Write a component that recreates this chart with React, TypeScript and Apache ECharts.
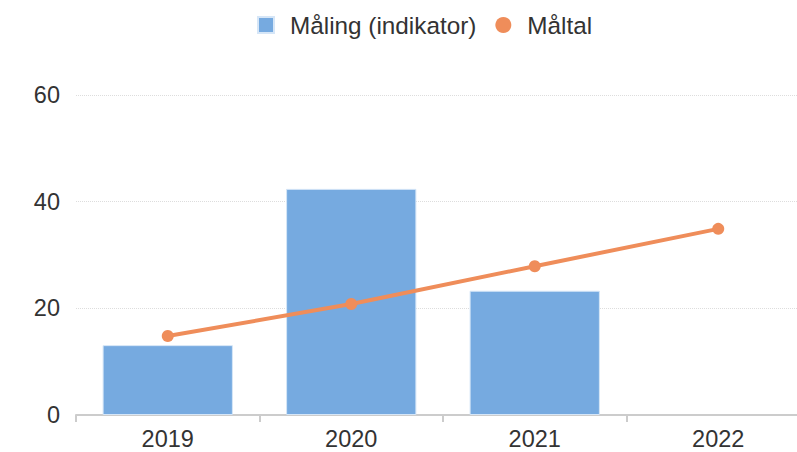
import React, { useEffect, useRef } from "react";
import * as echarts from "echarts";

const categories = ["2019", "2020", "2021", "2022"];
const malingValues: (number | null)[] = [13.1, 42.4, 23.3, null];
const maltalValues = [14.8, 20.8, 27.9, 34.9];
const yTicks = [0, 20, 40, 60];

export default function App() {
  const ref = useRef<HTMLDivElement>(null);
  useEffect(() => {
    if (!ref.current) return;
    const chart = echarts.init(ref.current, null, { renderer: "svg" });
    const font = "'Liberation Sans', Arial, sans-serif";
    chart.setOption({
      animation: false,
      textStyle: { fontFamily: font },
      legend: {
        top: 13,
        left: 257,
        padding: 0,
        itemWidth: 16,
        itemHeight: 16,
        itemGap: 19,
        textStyle: { fontSize: 24.3, color: "#333", fontFamily: font, padding: [0, 0, 0, 11] },
        data: [
          { name: "Måling (indikator)", icon: "rect" },
          { name: "Måltal", icon: "circle" },
        ],
      },
      grid: { left: 76, right: 0, top: 95, bottom: 37, containLabel: false },
      xAxis: {
        type: "category",
        data: categories,
        axisLine: { lineStyle: { color: "#ccc", width: 2 } },
        axisTick: { show: true, length: 7, lineStyle: { color: "#ccc", width: 2 } },
        axisLabel: { fontSize: 23.5, color: "#333", margin: 12, fontFamily: font },
      },
      yAxis: {
        type: "value",
        min: yTicks[0],
        max: yTicks[yTicks.length - 1],
        interval: 20,
        axisLabel: { fontSize: 23.5, color: "#333", margin: 16, fontFamily: font },
        splitLine: { lineStyle: { color: "#ddd", type: "dotted", width: 1 } },
        axisLine: { show: false },
        axisTick: { show: false },
      },
      series: [
        {
          name: "Måling (indikator)",
          type: "bar",
          data: malingValues,
          barWidth: "71%",
          itemStyle: { color: "#76AAE0", borderColor: "#D6E6F7", borderWidth: 1 },
        },
        {
          name: "Måltal",
          type: "line",
          data: maltalValues,
          symbol: "circle",
          symbolSize: 12,
          lineStyle: { color: "#EF8D5A", width: 4 },
          itemStyle: { color: "#EF8D5A" },
        },
      ],
    });
    return () => chart.dispose();
  }, []);
  return (
    <div style={{ position: "absolute", left: 0, top: 0, width: 797, height: 452, overflow: "hidden" }}>
      <div ref={ref} style={{ width: 810, height: 452 }} />
    </div>
  );
}
